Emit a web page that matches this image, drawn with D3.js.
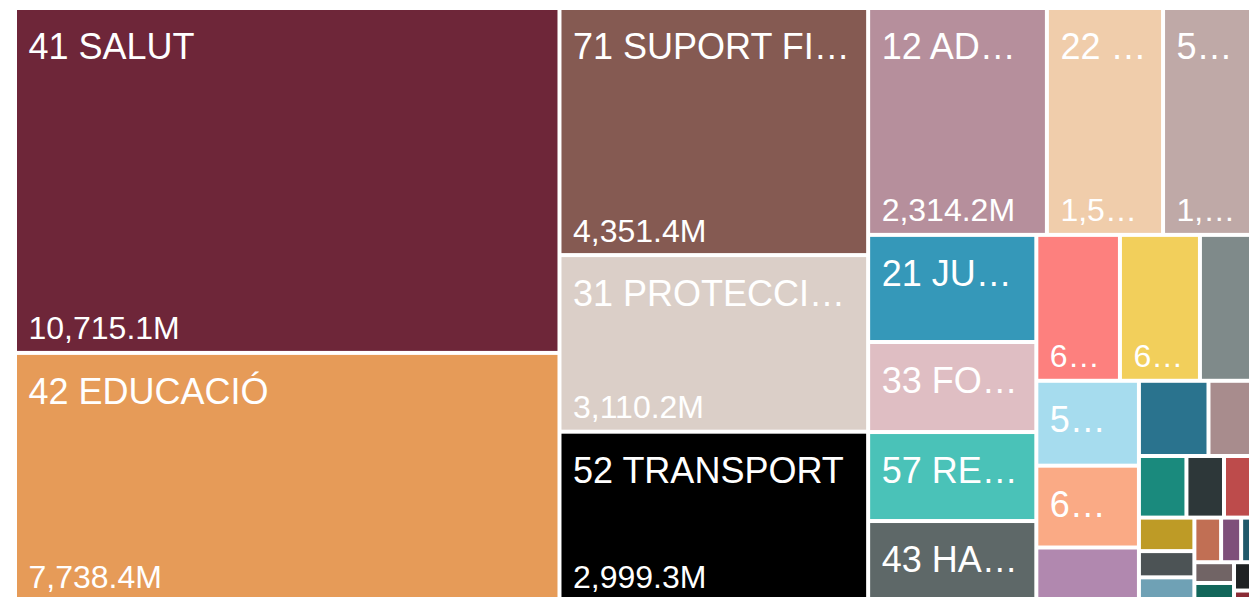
<!DOCTYPE html>
<html>
<head>
<meta charset="utf-8">
<script src="https://cdn.jsdelivr.net/npm/d3@7"></script>
<style>
  html, body { margin: 0; padding: 0; background: #fff; overflow: hidden; }
  svg { display: block; }
</style>
</head>
<body>
<svg id="chart" width="1249" height="597"></svg>
<script>
// Pressupost per polítiques (milions d'euros)
const categories = [
    '41 SALUT', '42 EDUCACIÓ', '71 SUPORT FINANCER A ENS LOCALS', '31 PROTECCIÓ SOCIAL',
    '52 TRANSPORT', '12 ADMINISTRACIÓ GENERAL', '22 SEGURETAT I PROTECCIÓ CIVIL',
    '51 INFRAESTRUCTURES', '21 JUSTÍCIA', "33 FOMENT DE L'OCUPACIÓ", '57 RECERCA',
    '43 HABITATGE', '61 REGULACIÓ ECONÒMICA', '62 AGRICULTURA', '44 CULTURA',
    '54 MEDI AMBIENT', '63 INDÚSTRIA', '32 PROMOCIÓ SOCIAL', '45 ESPORTS',
    '13 RELACIONS EXTERIORS', '53 TELECOMUNICACIONS', '11 ÒRGANS DE GOVERN',
    '34 ALTRES PRESTACIONS', '55 SOCIETAT DE LA INFORMACIÓ', '64 COMERÇ',
    '65 TURISME', '35 IMMIGRACIÓ', '58 RECURSOS HÍDRICS', '46 LLENGUA',
    '66 CONSUM', '14 PARTICIPACIÓ', '67 ENERGIA', '15 COOPERACIÓ',
];
const values = [
    10715.1, 7738.4, 4351.4, 3110.2,
    2999.3, 2314.2, 1503.6,
    1255.0, 1028.0, 864.0, 854.0,
    777.0, 696.0, 666.0, 500.0,
    497.0, 479.0, 319.0, 298.5,
    221.0, 167.0, 132.0,
    126.6, 106.0, 83.0,
    78.0, 68.0, 51.0, 48.0,
    47.0, 43.0, 42.0, 17.0,
];
const palette = [
    '#6E2639', '#E69B58', '#855A52', '#DBCFC8',
    '#000000', '#B68F9C', '#F0CDAB',
    '#BFA9A7', '#3598B9', '#DFBEC3', '#4AC2B8',
    '#5E6868', '#FD807E', '#F2CF5B', '#7F8A8A',
    '#A6DCEE', '#FAAA85', '#B188AF', '#2A738E',
    '#A88C8D', '#1A8A7D', '#2D3739',
    '#BD4B4B', '#BE9B26', '#4C5355',
    '#6FA1B5', '#C16F54', '#7E4F7A', '#1F5A6B',
    '#716465', '#12665A', '#1F2223', '#8A2B35',
];

const margin = { top: 10, left: 17 };
const width = 1241;
const height = 590;

const color = d3.scaleOrdinal(categories, palette);
const fmt = (v) => d3.format(',.1f')(v) + 'M';

const root = d3.hierarchy({ children: categories.map((c, i) => ({ name: c, value: values[i] })) })
    .sum((d) => d.value)
    .sort((a, b) => b.value - a.value);

d3.treemap()
    .tile(d3.treemapSquarify)
    .size([width, height])
    .paddingInner(4)
    .round(false)(root);

const svg = d3.select('#chart')
    .append('g')
    .attr('transform', `translate(${margin.left},${margin.top})`);

const cell = svg.selectAll('g')
    .data(root.leaves())
    .join('g')
    .attr('transform', (d) => `translate(${d.x0},${d.y0})`);

cell.append('rect')
    .attr('width', (d) => d.x1 - d.x0)
    .attr('height', (d) => d.y1 - d.y0)
    .attr('fill', (d) => color(d.data.name));

// Cut the text with an ellipsis until it fits the tile
function fitText(sel, text, maxW) {
    sel.text(text);
    if (sel.node().getComputedTextLength() <= maxW) return;
    let n = text.length;
    while (n > 0) {
        n--;
        sel.text(text.slice(0, n) + '…');
        if (sel.node().getComputedTextLength() <= maxW) return;
    }
    sel.remove();
}

cell.each(function (d) {
    const w = d.x1 - d.x0;
    const h = d.y1 - d.y0;
    const g = d3.select(this);
    const narrowTall = w < 120 && h >= 130 && h < 200; // only value fits there
    const showValue = w >= 70 && h >= 130;
    const showName = w >= 75 && h >= 60 && !narrowTall;
    if (showName) {
        const t = g.append('text')
            .attr('x', 11.5)
            .attr('y', 49)
            .attr('fill', '#fff')
            .attr('font-family', '"Liberation Sans", Arial, sans-serif')
            .attr('font-size', 36);
        fitText(t, d.data.name, w - 24);
    }
    if (showValue) {
        const t = g.append('text')
            .attr('x', 11.5)
            .attr('y', h - 11.5)
            .attr('fill', '#fff')
            .attr('font-family', '"Liberation Sans", Arial, sans-serif')
            .attr('font-size', 32);
        fitText(t, fmt(d.value), w - 24);
    }
});
</script>
</body>
</html>
